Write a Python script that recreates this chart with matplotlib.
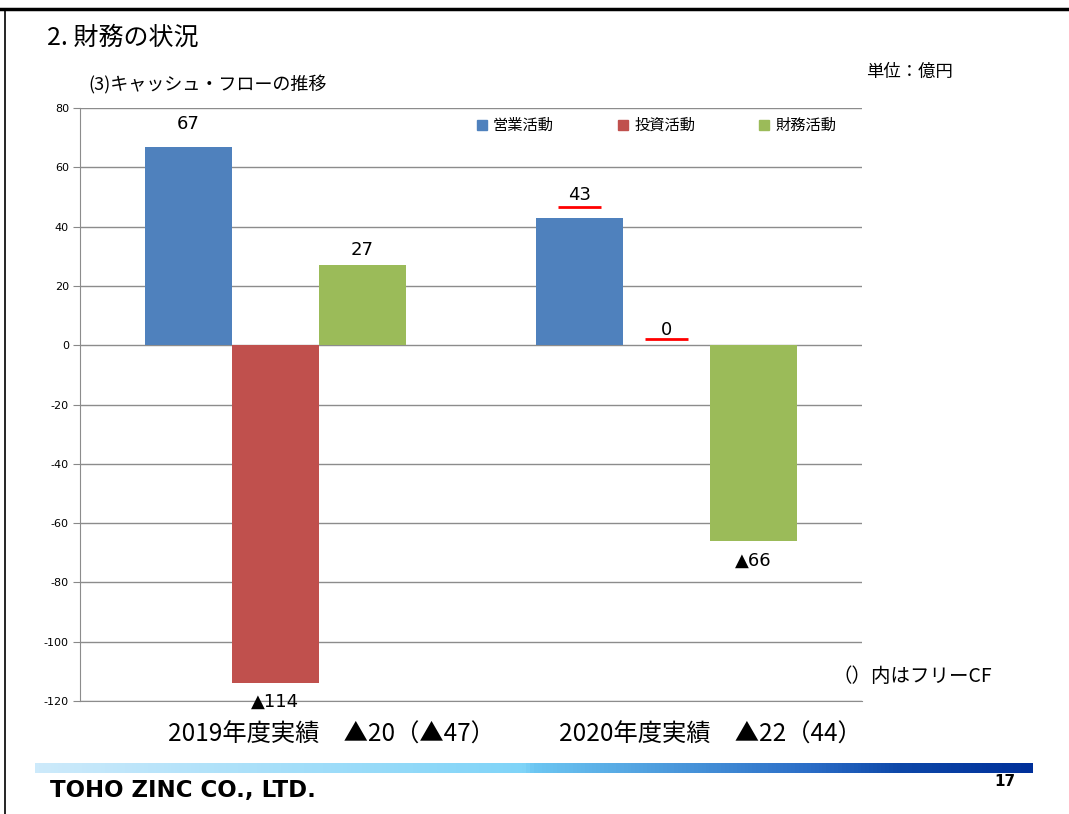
import numpy as np
import matplotlib
matplotlib.use('Agg')
import matplotlib.pyplot as plt
from matplotlib.patches import Patch
from matplotlib.lines import Line2D
from matplotlib.colors import LinearSegmentedColormap

plt.rcParams['font.family'] = ['Noto Sans CJK JP', 'DejaVu Sans']

# data (億円)
years = ['2019年度実績　▲20（▲47）', '2020年度実績　▲22（44）']
series = ['営業活動', '投資活動', '財務活動']
operating = [67, 43]
investing = [-114, 0]
financing = [27, -66]
colors = ['#4f81bd', '#c0504d', '#9bbb59']
yticks = list(range(-120, 81, 20))
# label offsets (points) as placed in the slide
label_off = [[16, 16.5], [-13.5, 11], [11, -14.5]]


def label(v):
    return '▲%d' % -v if v < 0 else '%d' % v


fig = plt.figure(figsize=(10.69, 8.14), dpi=100)
ax = fig.add_axes([80/1069, 1-701/814, 782/1069, 593/814])

w = 2/9
x = np.arange(len(years))
for k, (vals, c) in enumerate(zip([operating, investing, financing], colors)):
    pos = x + (k-1)*w
    ax.bar(pos, vals, width=w, color=c, zorder=2)
    for p, v, off in zip(pos, vals, label_off[k]):
        ax.annotate(label(v), (p, v), xytext=(0, off), textcoords='offset points',
                    ha='center', va='center', fontsize=13, family=['DejaVu Sans'],
                    zorder=4)

# red underlines on 2020 labels
for k, yv in [(0, 46.5), (1, 2.0)]:
    p = x[1] + (k-1)*w
    ax.hlines(yv, p-0.055, p+0.055, color='red', lw=2, zorder=3)

ax.set_xlim(-0.5, 1.5)
ax.set_ylim(-120, 80)
ax.set_yticks(yticks)
ax.set_yticklabels([str(t) for t in yticks], family=['DejaVu Sans'], fontsize=8)
ax.tick_params(axis='y', length=5, color='#888888', pad=3)
ax.set_xticks([])
ax.grid(axis='y', color='#8c8c8c', lw=1, zorder=0)
for s in ['top', 'right']:
    ax.spines[s].set_visible(False)
ax.spines['left'].set_color('#8c8c8c')
ax.spines['bottom'].set_color('#8c8c8c')

for i, t in enumerate(years):
    ax.text(x[i]-0.276, -0.057, t, transform=ax.get_xaxis_transform(),
            ha='left', va='center', fontsize=17.5)

handles = [Patch(color=c) for c in colors]
ax.legend(handles, series, ncol=3, loc='upper left', bbox_to_anchor=(0.496, 1.0),
          frameon=False, fontsize=11, handlelength=0.65, handleheight=0.65,
          handletextpad=0.4, columnspacing=4.2, borderaxespad=0.2)

fig.text(47/1069, 1-38/814, '2. 財務の状況', fontsize=18, va='center')
fig.text(88/1069, 1-85/814, '(3)キャッシュ・フローの推移', fontsize=13, va='center')
fig.text(866/1069, 1-72/814, '単位：億円', fontsize=12.5, va='center')
fig.text(832/1069, 1-676/814, '（）内はフリーCF', fontsize=14, va='center')
fig.text(50/1069, 1-790/814, 'TOHO ZINC CO., LTD.', fontsize=16.5, fontweight='heavy',
         va='center', family=['DejaVu Sans'])
fig.text(1005/1069, 1-782/814, '17', fontsize=11, fontweight='bold', ha='center',
         va='center', family=['DejaVu Sans'])

# gradient band
cmap = LinearSegmentedColormap.from_list('band', [(0, '#cdeafb'), (0.49, '#7fd4f8'),
                                                  (0.5, '#6cc6f2'), (0.78, '#2a6cc6'),
                                                  (0.87, '#0d47a8'), (1, '#00309a')])
bx = fig.add_axes([35/1069, 1-773/814, 998/1069, 10/814])
bx.imshow(np.linspace(0, 1, 256)[None, :], aspect='auto', cmap=cmap)
bx.axis('off')

# page border
fig.add_artist(Line2D([0, 1], [1-9/814, 1-9/814], color='black', lw=2.5))
fig.add_artist(Line2D([5/1069, 5/1069], [0, 1-9/814], color='black', lw=1.2))

fig.savefig('out.png', dpi=100)
